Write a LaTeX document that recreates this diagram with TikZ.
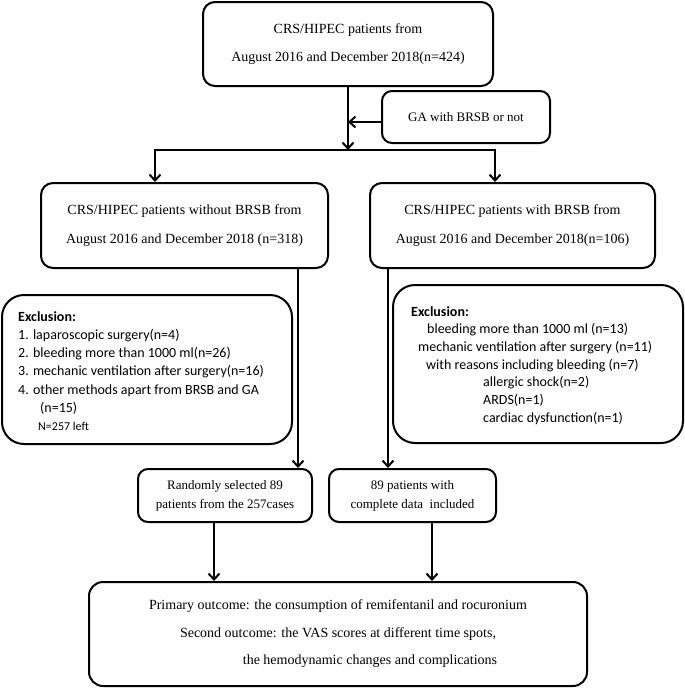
\documentclass[tikz,border=0pt]{standalone}
\usepackage{fontspec}
\setmainfont{Liberation Serif}
\newfontfamily\calibrifont{Carlito}
\usetikzlibrary{arrows.meta}
\begin{document}
\begin{tikzpicture}[x=1pt,y=-1pt,
  box/.style={draw, line width=2pt, rounded corners=12pt, inner sep=0pt, align=center},
  exbox/.style={draw, line width=2pt, rounded corners=22pt, inner sep=0pt},
  bigtxt/.style={font=\fontsize{14pt}{28.5pt}\selectfont},
  smalltxt/.style={font=\fontsize{13pt}{19pt}\selectfont},
  tipa/.tip={Straight Barb[length=6pt,width=11pt,line width=2pt]},
  arr/.style={line width=2pt, -tipa},
  arrb/.style={line width=2pt, tipa-tipa, line join=miter}]
\useasboundingbox (0,0) rectangle (685,689);

\node[box, bigtxt, minimum width=290pt, minimum height=84pt] (top) at (348,44)
  {CRS/HIPEC patients from\\August 2016 and December 2018(n=424)};
\node[box, smalltxt, rounded corners=10pt, minimum width=168pt, minimum height=52pt] (GA) at (466,117)
  {GA with BRSB or not};
\node[box, bigtxt, minimum width=287pt, minimum height=85pt] (L) at (184.5,225.5)
  {CRS/HIPEC patients without BRSB from\\August 2016 and December 2018 (n=318)};
\node[box, bigtxt, minimum width=285pt, minimum height=85pt] (R) at (512.5,225.5)
  {CRS/HIPEC patients with BRSB from\\August 2016 and December 2018(n=106)};

\node[exbox, minimum width=290pt, minimum height=149pt] (exL) at (147,369.5) {};
\node[anchor=north west, inner sep=0pt, align=left,
  font=\calibrifont\fontsize{14pt}{18.3pt}\selectfont] (exLt) at (18,311)
  {\textbf{Exclusion:}\\
   1. laparoscopic surgery(n=4)\\
   2. bleeding more than 1000 ml(n=26)\\
   3. mechanic ventilation after surgery(n=16)\\
   4. other methods apart from BRSB and GA\\
   \hspace*{22pt}(n=15)\\
   \hspace*{20pt}{\fontsize{12pt}{14pt}\selectfont N=257 left}};

\node[exbox, minimum width=290pt, minimum height=158pt] (exR) at (538,364) {};
\node[anchor=north west, inner sep=0pt, align=left,
  font=\calibrifont\fontsize{14pt}{17.7pt}\selectfont] (exRt) at (411,306)
  {\textbf{Exclusion:}\\
   \hspace*{16pt}bleeding more than 1000 ml (n=13)\\
   \hspace*{7pt}mechanic ventilation after surgery (n=11)\\
   \hspace*{15pt}with reasons including bleeding (n=7)\\
   \hspace*{72pt}allergic shock(n=2)\\
   \hspace*{72pt}ARDS(n=1)\\
   \hspace*{72pt}cardiac dysfunction(n=1)};

\node[box, smalltxt, rounded corners=10pt, minimum width=174pt, minimum height=53pt] (rand) at (225,495.5)
  {Randomly selected 89\\patients from the 257cases};
\node[box, smalltxt, rounded corners=10pt, minimum width=167pt, minimum height=53pt] (incl) at (412.5,495.5)
  {89 patients with\\complete data~ included};

\node[box, font=\fontsize{14pt}{27.5pt}\selectfont, rounded corners=14pt, minimum width=498pt, minimum height=104pt] (bot) at (338,634)
  {Primary outcome: the consumption of remifentanil and rocuronium\\
   Second outcome: the VAS scores at different time spots,\\
   \hspace*{64pt}the hemodynamic changes and complications};

% connectors
\coordinate (hl) at (155,150);
\coordinate (hr) at (495,150);
\draw[arr] (top.south) -- (top.south |- hl);
\draw[arr] ([yshift=-5pt]GA.west) -- ([yshift=-5pt]GA.west -| top.south);
\draw[arrb] (hl |- L.north) -- (hl) -- (hr) -- (hr |- R.north);

\coordinate (vl) at (298,268);
\coordinate (vr) at (388,268);
\draw[arr] (vl |- L.south) -- (vl |- rand.north);
\draw[arr] (vr |- R.south) -- (vr |- incl.north);

\coordinate (dl) at (214,522);
\coordinate (dr) at (432,522);
\draw[arr] (dl |- rand.south) -- (dl |- bot.north);
\draw[arr] (dr |- incl.south) -- (dr |- bot.north);
\end{tikzpicture}
\end{document}
